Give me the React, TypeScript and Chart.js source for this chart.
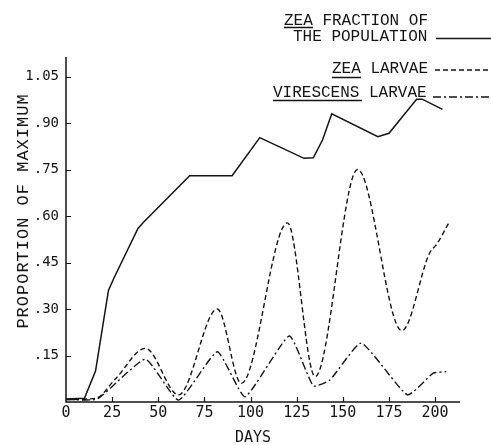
import React, { useEffect, useRef } from 'react';
import { Chart, registerables } from 'chart.js';

Chart.register(...registerables);

// ---- Data ----
const zeaFractionDays = [0, 10, 16, 23, 26, 39, 42, 67, 90, 105, 129, 134, 139, 144, 169, 175, 190, 193, 204];
const zeaFractionValues = [0.01, 0.012, 0.1, 0.36, 0.4, 0.56, 0.58, 0.73, 0.73, 0.853, 0.786, 0.788, 0.845, 0.93, 0.856, 0.867, 0.977, 0.977, 0.944];

const zeaLarvaeDays = [0, 16, 27, 43, 61, 82, 95, 120, 135, 158, 182, 197, 201, 208];
const zeaLarvaeValues = [0.008, 0.012, 0.076, 0.173, 0.023, 0.3, 0.06, 0.578, 0.082, 0.75, 0.23, 0.48, 0.51, 0.584];

const virescensDays = [0, 17, 43, 61, 82, 97, 121, 134, 143, 160, 185, 199, 206];
const virescensValues = [0.008, 0.01, 0.138, 0.006, 0.162, 0.017, 0.213, 0.052, 0.071, 0.19, 0.023, 0.093, 0.098];

const xTickValues = [0, 25, 50, 75, 100, 125, 150, 175, 200];
const yTickValues = [0.15, 0.3, 0.45, 0.6, 0.75, 0.9, 1.05];

const legendLine1 = 'ZEA FRACTION OF';
const legendLine2 = 'THE POPULATION';
const legendLine3 = 'ZEA LARVAE';
const legendLine4 = 'VIRESCENS LARVAE';
const xAxisTitle = 'DAYS';
const yAxisTitle = 'PROPORTION OF MAXIMUM';

const X_MAX = 213.5;
const Y_MAX = 1.113;

const INK = '#141414';

function toPoints(xs: number[], ys: number[]) {
  return xs.map((x, i) => ({ x, y: ys[i] }));
}

function fmtY(v: number) {
  const s = v.toFixed(2);
  return v < 1 ? s.replace(/^0/, '') : s;
}

const decorPlugin = {
  id: 'decor',
  afterDraw(chart: any) {
    const ctx = chart.ctx as CanvasRenderingContext2D;
    const xs = chart.scales.x;
    const ys = chart.scales.y;
    const x0 = xs.getPixelForValue(0);
    const y0 = ys.getPixelForValue(0);
    const xEnd = xs.getPixelForValue(X_MAX);
    const yTop = ys.getPixelForValue(Y_MAX);
    ctx.save();
    ctx.strokeStyle = INK;
    ctx.fillStyle = INK;
    ctx.lineWidth = 1.5;
    ctx.setLineDash([]);
    // axes
    ctx.beginPath();
    ctx.moveTo(x0, yTop);
    ctx.lineTo(x0, y0);
    ctx.lineTo(xEnd, y0);
    ctx.stroke();
    // inner tick marks
    ctx.lineWidth = 1.2;
    ctx.beginPath();
    xTickValues.forEach((v) => {
      if (v === 0) return;
      const px = Math.round(xs.getPixelForValue(v)) + 0.5;
      ctx.moveTo(px, y0);
      ctx.lineTo(px, y0 - 5);
    });
    yTickValues.forEach((v) => {
      const py = Math.round(ys.getPixelForValue(v)) + 0.5;
      ctx.moveTo(x0, py);
      ctx.lineTo(x0 + 5, py);
    });
    ctx.stroke();

    // tick labels
    ctx.font = '15px "DejaVu Sans Mono"';
    ctx.textAlign = 'center';
    ctx.textBaseline = 'top';
    xTickValues.forEach((v) => {
      ctx.fillText(String(v), xs.getPixelForValue(v), y0 + 4);
    });
    ctx.font = '14px "DejaVu Sans Mono"';
    ctx.textAlign = 'right';
    ctx.textBaseline = 'middle';
    yTickValues.forEach((v) => {
      ctx.fillText(fmtY(v), x0 - 7, ys.getPixelForValue(v));
    });

    // axis titles
    ctx.font = '15px "DejaVu Sans Mono"';
    ctx.textAlign = 'center';
    ctx.textBaseline = 'middle';
    ctx.fillText(xAxisTitle, 253, 438);

    ctx.save();
    ctx.translate(23, 211);
    ctx.rotate(-Math.PI / 2);
    ctx.font = '17px "Liberation Mono"';
    (ctx as any).letterSpacing = '1px';
    ctx.textAlign = 'center';
    ctx.textBaseline = 'middle';
    ctx.fillText(yAxisTitle, 0, 0);
    ctx.restore();

    // legend
    ctx.font = '16px "Liberation Mono"';
    ctx.textAlign = 'left';
    ctx.textBaseline = 'alphabetic';
    ctx.fillText(legendLine1, 284, 25);
    ctx.fillText(legendLine2, 293, 41);
    ctx.fillText(legendLine3, 332, 73);
    ctx.fillText(legendLine4, 273, 97);

    ctx.lineWidth = 1.3;
    // underlines
    ctx.beginPath();
    ctx.moveTo(284, 27.5); ctx.lineTo(313, 27.5);
    ctx.moveTo(332, 77.5); ctx.lineTo(361, 77.5);
    ctx.moveTo(273, 100.5); ctx.lineTo(362, 100.5);
    ctx.stroke();

    // legend line samples
    ctx.lineWidth = 1.6;
    ctx.beginPath();
    ctx.moveTo(436, 38.5); ctx.lineTo(491, 38.5);
    ctx.stroke();
    ctx.setLineDash([5, 3]);
    ctx.beginPath();
    ctx.moveTo(435, 70); ctx.lineTo(491, 70);
    ctx.stroke();
    ctx.setLineDash([8, 3, 2, 3]);
    ctx.beginPath();
    ctx.moveTo(433, 97); ctx.lineTo(491, 97);
    ctx.stroke();
    ctx.restore();
  },
};

export default function App() {
  const ref = useRef<HTMLCanvasElement | null>(null);
  useEffect(() => {
    if (!ref.current) return;
    const chart = new Chart(ref.current, {
      type: 'line',
      data: {
        datasets: [
          {
            label: 'ZEA FRACTION OF THE POPULATION',
            data: toPoints(zeaFractionDays, zeaFractionValues),
            borderColor: INK,
            borderWidth: 1.5,
            pointRadius: 0,
            tension: 0,
            fill: false,
          },
          {
            label: 'ZEA LARVAE',
            data: toPoints(zeaLarvaeDays, zeaLarvaeValues),
            borderColor: INK,
            borderWidth: 1.4,
            borderDash: [5, 3],
            pointRadius: 0,
            cubicInterpolationMode: 'monotone',
            fill: false,
          },
          {
            label: 'VIRESCENS LARVAE',
            data: toPoints(virescensDays, virescensValues),
            borderColor: INK,
            borderWidth: 1.4,
            borderDash: [8, 3, 2, 3],
            pointRadius: 0,
            tension: 0.15,
            fill: false,
          },
        ],
      },
      options: {
        animation: false,
        responsive: false,
        devicePixelRatio: 1,
        parsing: false as any,
        layout: { padding: { left: 66, top: 57, right: 31, bottom: 43 } },
        plugins: { legend: { display: false }, tooltip: { enabled: false } },
        events: [],
        scales: {
          x: { type: 'linear', display: false, min: 0, max: X_MAX },
          y: { type: 'linear', display: false, min: 0, max: Y_MAX },
        },
      },
      plugins: [decorPlugin],
    });
    return () => chart.destroy();
  }, []);
  return (
    <div style={{ position: 'absolute', left: 0, top: 0, width: 491, height: 445, background: '#fff' }}>
      <canvas ref={ref} width={491} height={445} style={{ width: 491, height: 445, display: 'block' }} />
    </div>
  );
}
